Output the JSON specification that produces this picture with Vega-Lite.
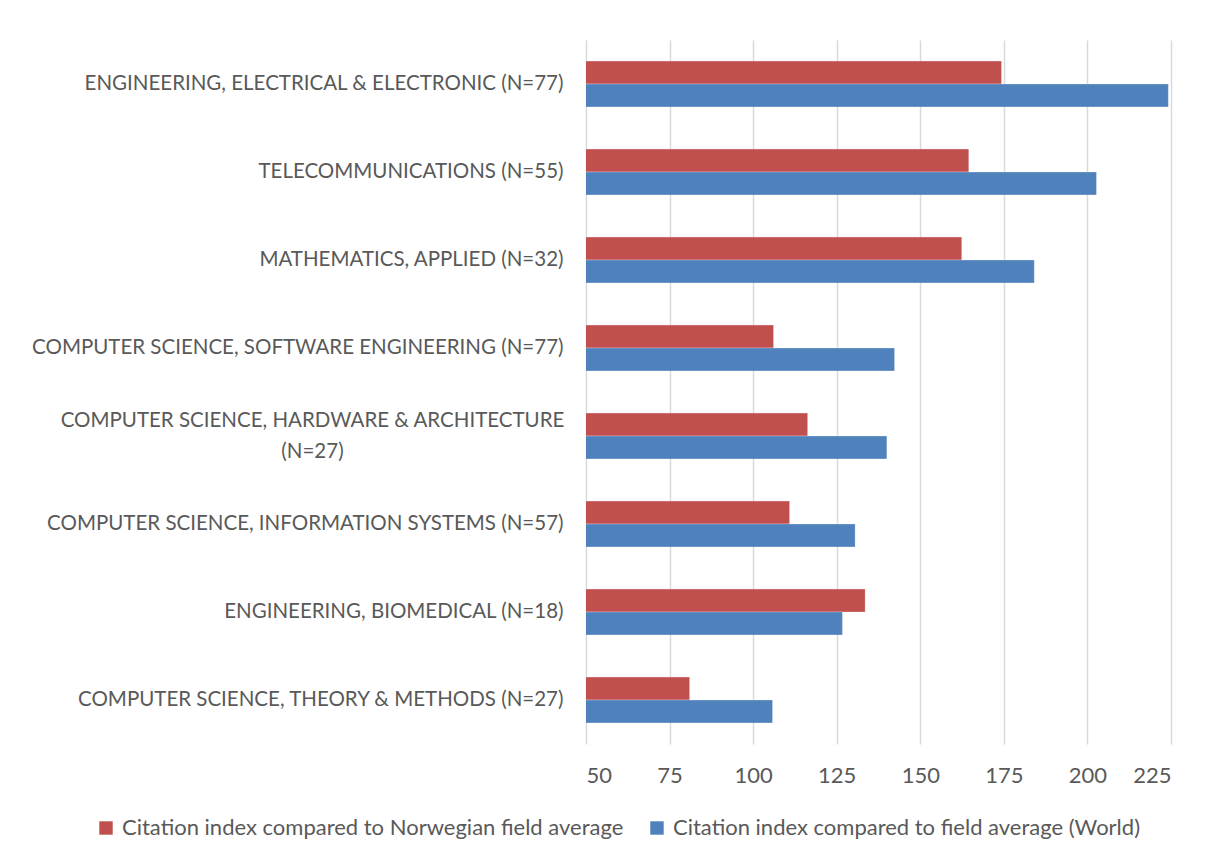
{
  "$schema": "https://vega.github.io/schema/vega-lite/v6.json",
  "autosize": "none",
  "width": 585,
  "height": 704,
  "padding": {"left": 586, "top": 40, "right": 44, "bottom": 117},
  "background": "white",
  "config": {
    "font": "Lato",
    "view": {"stroke": null},
    "axis": {"labelColor": "#595959", "labelFont": "Lato"}
  },
  "data": {
    "values": [
      {"category": "ENGINEERING, ELECTRICAL & ELECTRONIC (N=77)", "series": "Citation index compared to Norwegian field average", "value": 174.3},
      {"category": "ENGINEERING, ELECTRICAL & ELECTRONIC (N=77)", "series": "Citation index compared to field average (World)", "value": 224.2},
      {"category": "TELECOMMUNICATIONS (N=55)", "series": "Citation index compared to Norwegian field average", "value": 164.5},
      {"category": "TELECOMMUNICATIONS (N=55)", "series": "Citation index compared to field average (World)", "value": 202.7},
      {"category": "MATHEMATICS, APPLIED (N=32)", "series": "Citation index compared to Norwegian field average", "value": 162.4},
      {"category": "MATHEMATICS, APPLIED (N=32)", "series": "Citation index compared to field average (World)", "value": 184.1},
      {"category": "COMPUTER SCIENCE, SOFTWARE ENGINEERING (N=77)", "series": "Citation index compared to Norwegian field average", "value": 106.1},
      {"category": "COMPUTER SCIENCE, SOFTWARE ENGINEERING (N=77)", "series": "Citation index compared to field average (World)", "value": 142.3},
      {"category": "COMPUTER SCIENCE, HARDWARE & ARCHITECTURE (N=27)", "series": "Citation index compared to Norwegian field average", "value": 116.3},
      {"category": "COMPUTER SCIENCE, HARDWARE & ARCHITECTURE (N=27)", "series": "Citation index compared to field average (World)", "value": 140.0},
      {"category": "COMPUTER SCIENCE, INFORMATION SYSTEMS (N=57)", "series": "Citation index compared to Norwegian field average", "value": 110.9},
      {"category": "COMPUTER SCIENCE, INFORMATION SYSTEMS (N=57)", "series": "Citation index compared to field average (World)", "value": 130.5},
      {"category": "ENGINEERING, BIOMEDICAL (N=18)", "series": "Citation index compared to Norwegian field average", "value": 133.5},
      {"category": "ENGINEERING, BIOMEDICAL (N=18)", "series": "Citation index compared to field average (World)", "value": 126.7},
      {"category": "COMPUTER SCIENCE, THEORY & METHODS (N=27)", "series": "Citation index compared to Norwegian field average", "value": 81.0},
      {"category": "COMPUTER SCIENCE, THEORY & METHODS (N=27)", "series": "Citation index compared to field average (World)", "value": 105.8}
    ]
  },
  "mark": {"type": "bar", "clip": true, "stroke": "white", "strokeOpacity": 0.35, "strokeWidth": 0.75},
  "encoding": {
    "y": {
      "field": "category",
      "type": "nominal",
      "sort": null,
      "scale": {"paddingInner": 0.48, "paddingOuter": 0.24},
      "axis": {
        "title": null,
        "domain": false,
        "ticks": false,
        "grid": false,
        "labelPadding": {"condition": {"test": "datum.value == 'COMPUTER SCIENCE, HARDWARE & ARCHITECTURE (N=27)'", "value": 274}, "value": 23},
        "labelAlign": {"condition": {"test": "datum.value == 'COMPUTER SCIENCE, HARDWARE & ARCHITECTURE (N=27)'", "value": "center"}, "value": "right"},
        "labelOffset": {"condition": {"test": "datum.value == 'COMPUTER SCIENCE, HARDWARE & ARCHITECTURE (N=27)'", "value": -15.5}, "value": 0},
        "labelFontSize": 20.5,
        "labelLimit": 0,
        "labelLineHeight": 31,
        "labelExpr": "datum.value == 'COMPUTER SCIENCE, HARDWARE & ARCHITECTURE (N=27)' ? ['COMPUTER SCIENCE, HARDWARE & ARCHITECTURE', '(N=27)'] : datum.value"
      }
    },
    "yOffset": {
      "field": "series",
      "type": "nominal",
      "sort": ["Citation index compared to Norwegian field average", "Citation index compared to field average (World)"],
      "scale": {"paddingInner": 0, "paddingOuter": 0}
    },
    "x": {
      "field": "value",
      "type": "quantitative",
      "scale": {"domain": [50, 225], "nice": false, "zero": false},
      "axis": {
        "title": null,
        "values": [50, 75, 100, 125, 150, 175, 200, 225],
        "domain": false,
        "ticks": false,
        "grid": true,
        "gridColor": "#d9d9d9",
        "gridWidth": 1.5,
        "labelPadding": 21,
        "labelFontSize": 22
      }
    },
    "color": {
      "field": "series",
      "type": "nominal",
      "scale": {
        "domain": ["Citation index compared to Norwegian field average", "Citation index compared to field average (World)"],
        "range": ["#C0504D", "#4F81BD"]
      },
      "legend": {
        "title": null,
        "orient": "none",
        "direction": "horizontal",
        "legendX": -491,
        "legendY": 777,
        "symbolType": "square",
        "symbolSize": 180,
        "symbolStrokeWidth": 0,
        "labelFontSize": 22,
        "labelColor": "#595959",
        "labelFont": "Lato",
        "labelLimit": 0,
        "columnPadding": 22,
        "labelOffset": 5
      }
    }
  }
}
